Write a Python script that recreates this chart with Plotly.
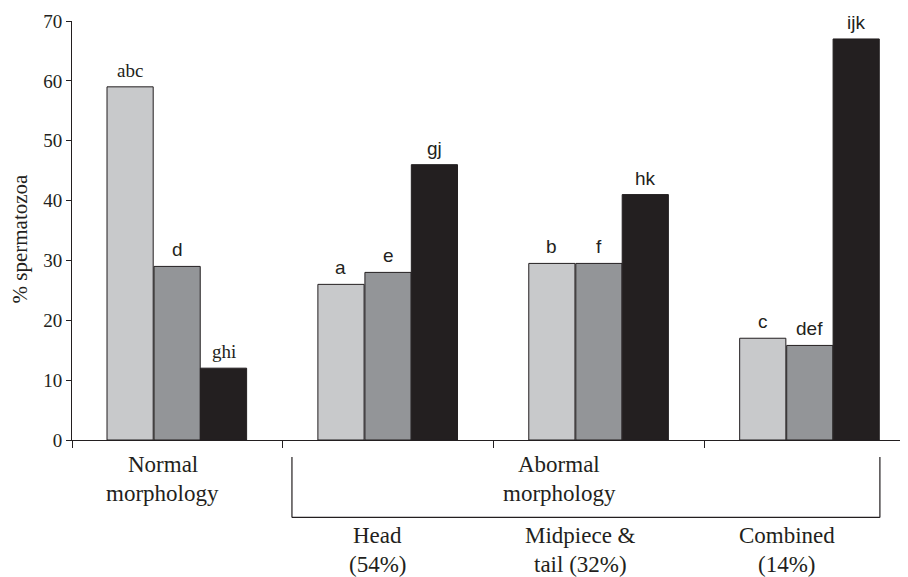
import plotly.graph_objects as go

categories = ["Normal", "Head", "Midpiece & tail", "Combined"]
series_names = ["Group 1", "Group 2", "Group 3"]
values_light = [59, 26, 29.5, 17]
values_mid = [29, 28, 29.5, 15.8]
values_dark = [12, 46, 41, 67]
letters_light = ["abc", "a", "b", "c"]
letters_mid = ["d", "e", "f", "def"]
letters_dark = ["ghi", "gj", "hk", "ijk"]
y_ticks = [0, 10, 20, 30, 40, 50, 60, 70]
sub_labels = [("Head", "(54%)"), ("Midpiece &", "tail (32%)"), ("Combined", "(14%)")]

colors = ["#c8c9cb", "#939598", "#231f20"]
offsets = [-0.334, -0.111, 0.109]
width = 0.219
serif = "Liberation Serif, Times New Roman, serif"
sans = "Liberation Sans, Arial, sans-serif"
ink = "#231f20"

# figure geometry (the page adds an 8px body margin)
W, H = 900, 569
ML, MR, MT, MB = 64, 3, 10, 137
y0px = H - MB
plot_h = H - MT - MB


def py(p):
    return (y0px - p) / plot_h


xpos = list(range(len(categories)))
fig = go.Figure()
all_vals = [values_light, values_mid, values_dark]
all_letters = [letters_light, letters_mid, letters_dark]
for i, (vals, name) in enumerate(zip(all_vals, series_names)):
    fig.add_trace(go.Bar(
        x=xpos, y=vals, name=name, width=width, offset=offsets[i],
        marker=dict(color=colors[i], line=dict(color=ink, width=1)),
        showlegend=False, hoverinfo="skip",
    ))
    for j, (v, t) in enumerate(zip(vals, all_letters[i])):
        fam = serif if t in ("abc", "ghi") else sans
        fig.add_annotation(
            x=xpos[j] + offsets[i] + width / 2, y=v, xref="x", yref="y",
            text=t, showarrow=False, yanchor="bottom", yshift=4,
            font=dict(family=fam, size=19, color=ink),
        )


def lab(x, ypx, text, size=23):
    fig.add_annotation(x=x, xref="x", y=py(ypx), yref="paper",
                       text=text, showarrow=False, xanchor="center", yanchor="middle",
                       font=dict(family=serif, size=size, color=ink))


lab(-0.069, 457, "Normal")
lab(-0.069, 486, "morphology")
lab(1.81, 457, "Abormal")
lab(1.81, 486, "morphology")
sub_x = [0.95, 1.91, 2.89]
for k, (l1, l2) in enumerate(sub_labels):
    lab(sub_x[k], 528, l1)
    lab(sub_x[k], 557, l2)

# bracket
yb_top = py(449)
yb_bot = py(510)
bx0, bx1 = 0.543, 3.331
for sh in [dict(x0=bx0, x1=bx0, y0=yb_top, y1=yb_bot),
           dict(x0=bx1, x1=bx1, y0=yb_top, y1=yb_bot),
           dict(x0=bx0, x1=bx1, y0=yb_bot, y1=yb_bot)]:
    fig.add_shape(type="line", xref="x", yref="paper",
                  line=dict(color=ink, width=1.2), **sh)

fig.add_annotation(x=(12 - ML) / (W - ML - MR), y=py(229), xref="paper", yref="paper",
                   text="% spermatozoa", textangle=-90, showarrow=False,
                   xanchor="center", yanchor="middle",
                   font=dict(family=serif, size=21, color=ink))

fig.update_layout(
    width=W, height=H,
    margin=dict(l=ML, r=MR, t=MT, b=MB),
    paper_bgcolor="white", plot_bgcolor="white",
    barmode="overlay",
    xaxis=dict(range=[-0.5, 3.45], showgrid=False, zeroline=False,
               showline=True, linecolor=ink, linewidth=1,
               tickmode="array", tickvals=[-0.5, 0.5, 1.5, 2.5], ticktext=["", "", "", ""],
               ticks="outside", ticklen=7, tickcolor=ink, tickwidth=1),
    yaxis=dict(range=[0, 70], showgrid=False, zeroline=False,
               showline=True, linecolor=ink, linewidth=1,
               tickmode="array", tickvals=y_ticks,
               ticks="outside", ticklen=5, tickcolor=ink, tickwidth=1,
               ticklabeloverflow="allow",
               tickfont=dict(family=serif, size=19, color=ink)),
)

fig.write_html("out.html")
